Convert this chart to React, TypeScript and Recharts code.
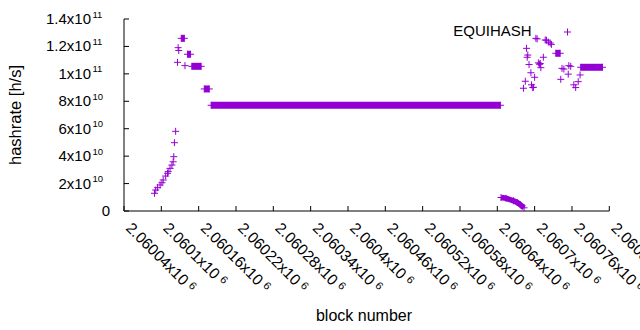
import { ScatterChart, Scatter, XAxis, YAxis, Legend } from "recharts";

const PURPLE = "#9400d3";
const FONT = "'Liberation Sans', Arial, sans-serif";

// axis ticks
const xTicks = [
  2060040, 2060100, 2060160, 2060220, 2060280, 2060340, 2060400,
  2060460, 2060520, 2060580, 2060640, 2060700, 2060760, 2060820,
];
const xTickMantissa = [
  "2.06004", "2.0601", "2.06016", "2.06022", "2.06028", "2.06034", "2.0604",
  "2.06046", "2.06052", "2.06058", "2.06064", "2.0607", "2.06076", "2.06082",
];
const yTicks = [0, 2e10, 4e10, 6e10, 8e10, 1e11, 1.2e11, 1.4e11];
const yTickMantissa = ["0", "2", "4", "6", "8", "1", "1.2", "1.4"];
const yTickExponent = ["", "10", "10", "10", "10", "11", "11", "11"];

// single blocks, each one a '+'
const pointBlocks = [
  2060089, 2060091, 2060094, 2060098, 2060101, 2060103, 2060107, 2060110,
  2060111, 2060114, 2060117, 2060119, 2060120, 2060121, 2060123, 2060126,
  2060127, 2060128, 2060138,
  2060682, 2060685, 2060687, 2060688, 2060689, 2060691, 2060694, 2060695,
  2060697, 2060698, 2060700, 2060702, 2060704, 2060706, 2060708, 2060709,
  2060710, 2060714, 2060717, 2060719, 2060722, 2060725, 2060727, 2060742,
  2060744, 2060747, 2060754, 2060755, 2060758, 2060763, 2060766, 2060770,
  2060773,
];
const pointRates = [
  1.29e10, 1.53e10, 1.7e10, 1.9e10, 2.06e10, 2.26e10, 2.55e10, 2.75e10,
  2.87e10, 3.11e10, 3.35e10, 3.59e10, 3.96e10, 4.98e10, 5.81e10, 1.084e11,
  1.191e11, 1.17e11, 1.06e11,
  8.95e10, 9.46e10, 1.186e11, 1.121e11, 1.137e11, 1.068e11, 1.008e11, 9.2e10,
  9.0e10, 9.02e10, 9.75e10, 1.259e11, 1.255e11, 1.08e11, 1.07e11, 1.075e11,
  1.045e11, 1.121e11, 1.247e11, 1.245e11, 1.232e11, 1.225e11, 1.215e11, 9.6e10,
  1.04e11, 1.035e11, 9.98e10, 1.06e11, 1.055e11, 9.2e10, 9.0e10, 9.43e10,
  9.92e10,
];

// stretches of consecutive blocks sitting at one hashrate
const runStart = [2060132, 2060142, 2060149, 2060169, 2060180, 2060734, 2060774];
const runEnd = [2060137, 2060147, 2060164, 2060177, 2060645, 2060741, 2060809];
const runRate = [1.259e11, 1.143e11, 1.055e11, 8.9e10, 7.71e10, 1.15e11, 1.048e11];

// the fall right after the long plateau
const dropBlocks = [2060646, 2060654, 2060666, 2060672, 2060677, 2060683];
const dropRates = [9.84e9, 9.26e9, 7.44e9, 6.2e9, 4.59e9, 2.33e9];

const points = pointBlocks.map((b, i) => ({ x: b, y: pointRates[i] }));
const drop = dropBlocks.map((b, i) => ({ x: b, y: dropRates[i] }));

function Plus(props: any) {
  const { cx, cy } = props;
  if (cx == null || cy == null) return null;
  return (
    <path
      d={`M${cx - 3.5},${cy}H${cx + 3.5}M${cx},${cy - 3.5}V${cy + 3.5}`}
      stroke={PURPLE}
      strokeWidth={1}
      fill="none"
    />
  );
}

function XTick(props: any) {
  const { x, payload } = props;
  const i = xTicks.indexOf(payload.value);
  const tx = x + 1;
  const ty = 229;
  return (
    <text x={tx} y={ty} transform={`rotate(45 ${tx} ${ty})`} fontSize={15.5} fontFamily={FONT} fill="#000">
      {xTickMantissa[i]}x10
      <tspan dx={4} dy={-4} fontSize={11}>6</tspan>
    </text>
  );
}

function YTick(props: any) {
  const { y, payload } = props;
  const i = yTicks.indexOf(payload.value);
  if (!yTickExponent[i]) {
    return (
      <text x={110} y={y + 5} textAnchor="end" fontSize={15} fontFamily={FONT} fill="#000">
        {yTickMantissa[i]}
      </text>
    );
  }
  return (
    <g>
      <text x={91} y={y + 5} textAnchor="end" fontSize={15} fontFamily={FONT} fill="#000">
        {yTickMantissa[i]}x10
      </text>
      <text x={92.5} y={y - 1.5} fontSize={9.5} fontFamily={FONT} fill="#000">
        {yTickExponent[i]}
      </text>
    </g>
  );
}

function KeyBox() {
  return (
    <svg width={150} height={26} style={{ display: "block" }}>
      <text x={91.7} y={17.7} textAnchor="end" fontSize={15} fontFamily={FONT} fill="#000">
        EQUIHASH
      </text>
      <Plus cx={127.5} cy={14} />
    </svg>
  );
}

export default function App() {
  const domain: [number, number] = [2060040, 2060820];
  return (
    <div style={{ position: "absolute", left: 0, top: 0 }}>
      <ScatterChart width={640} height={330} margin={{ top: 19, right: 30.7, bottom: 0, left: 0 }}>
        <XAxis
          dataKey="x"
          type="number"
          domain={domain}
          ticks={xTicks}
          interval={0}
          height={119}
          tickSize={-5}
          stroke="#000"
          tick={<XTick />}
          label={{
            content: () => (
              <text x={364} y={321} textAnchor="middle" fontSize={16} fontFamily={FONT} fill="#000">
                block number
              </text>
            ),
          }}
        />
        <XAxis
          xAxisId="top"
          orientation="top"
          dataKey="x"
          type="number"
          domain={domain}
          ticks={xTicks}
          interval={0}
          height={0}
          tickSize={-5}
          stroke="#000"
          tick={false}
        />
        <YAxis
          dataKey="y"
          type="number"
          domain={[0, 1.4e11]}
          ticks={yTicks}
          interval={0}
          width={124}
          tickSize={-5}
          stroke="#000"
          tick={<YTick />}
          label={{
            content: () => (
              <text
                x={21}
                y={115}
                transform="rotate(-90 21 115)"
                textAnchor="middle"
                fontSize={16.5}
                fontFamily={FONT}
                fill="#000"
              >
                hashrate [h/s]
              </text>
            ),
          }}
        />
        <YAxis
          yAxisId="right"
          orientation="right"
          dataKey="y"
          type="number"
          domain={[0, 1.4e11]}
          ticks={yTicks}
          interval={0}
          width={0}
          tickSize={-5}
          stroke="#000"
          tick={false}
        />
        <Legend
          layout="horizontal"
          verticalAlign="middle"
          align="center"
          wrapperStyle={{ position: "absolute", left: 440, top: 18, width: 150, height: 26 }}
          content={() => <KeyBox />}
        />
        {runStart.map((s, i) => (
          <Scatter
            key={`run-${i}`}
            data={[
              { x: s, y: runRate[i] },
              { x: runEnd[i], y: runRate[i] },
            ]}
            shape={Plus}
            line={{ stroke: PURPLE, strokeWidth: 7 }}
            lineType="joint"
            isAnimationActive={false}
          />
        ))}
        <Scatter
          data={drop}
          shape={Plus}
          line={{ stroke: PURPLE, strokeWidth: 5.5 }}
          lineType="joint"
          isAnimationActive={false}
        />
        <Scatter data={points} shape={Plus} isAnimationActive={false} />
      </ScatterChart>
    </div>
  );
}
